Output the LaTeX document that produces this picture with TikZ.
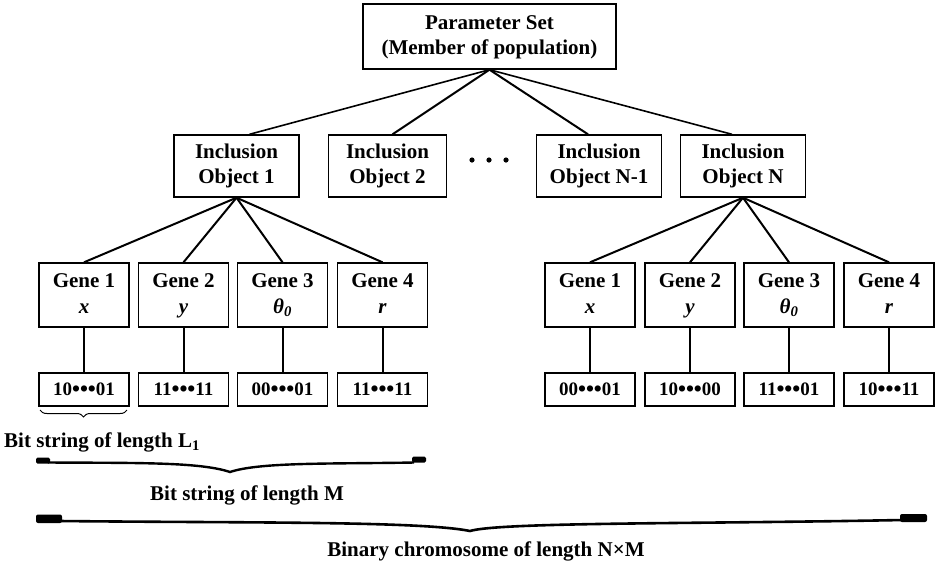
\documentclass[tikz,border=0pt]{standalone}
\usepackage{fontspec}
\setmainfont{Liberation Serif}
\usetikzlibrary{decorations.pathreplacing}
\newcommand{\bdots}{\raisebox{-0.08em}{\scalebox{1.2}{\textbullet\textbullet\textbullet}}}
\begin{document}
\begin{tikzpicture}[x=1pt,y=-1pt,
  box/.style={draw, line width=1.4pt, inner sep=0pt, align=center, font=\fontsize{21}{25}\selectfont\bfseries},
  topbox/.style={box, minimum width=253pt, minimum height=65pt},
  objbox/.style={box, minimum width=125pt, minimum height=62pt},
  genebox/.style={box, minimum width=90pt, minimum height=64pt, font=\fontsize{21}{26}\selectfont\bfseries},
  bitbox/.style={box, minimum width=90pt, minimum height=33pt, font=\fontsize{19}{20}\selectfont\bfseries},
  link/.style={line width=2pt},
  label/.style={font=\fontsize{21}{24}\selectfont\bfseries, inner sep=0pt}
]
\useasboundingbox (0,0) rectangle (942,566);

\node[topbox] (top) at (489.5,36.5) {\raisebox{-3pt}{Parameter Set\strut}\\\raisebox{-3pt}{(Member of population)\strut}};

\node[objbox] (o1) at (236.5,166) {Inclusion\strut\\Object 1\strut};
\node[objbox, minimum width=118pt] (o2) at (387.5,166) {Inclusion\strut\\Object 2\strut};
\node[objbox] (on1) at (599,166) {Inclusion\strut\\Object N-1\strut};
\node[objbox] (on) at (743,166) {Inclusion\strut\\Object N\strut};

\foreach \x [count=\i] in {472,489,506} \fill (\x,160) circle (2.6pt);

\draw[link, line width=1.6pt] (top.south) -- ([xshift=13pt]o1.north);
\draw[link] (top.south) -- ([xshift=5pt]o2.north);
\draw[link] (top.south) -- ([xshift=-11pt]on1.north);
\draw[link, line width=1.6pt] (top.south) -- ([xshift=-11pt]on.north);

% left genes
\node[genebox] (g1) at (84,295) {Gene 1\strut\\\textit{x}\strut};
\node[genebox] (g2) at (183.5,295) {Gene 2\strut\\\textit{y}\strut};
\node[genebox] (g3) at (282.5,295) {Gene 3\strut\\\textit{θ\textsubscript{0}}\strut};
\node[genebox] (g4) at (382.5,295) {Gene 4\strut\\\textit{r}\strut};
% right genes
\node[genebox] (h1) at (590,295) {Gene 1\strut\\\textit{x}\strut};
\node[genebox] (h2) at (690,295) {Gene 2\strut\\\textit{y}\strut};
\node[genebox] (h3) at (789,295) {Gene 3\strut\\\textit{θ\textsubscript{0}}\strut};
\node[genebox] (h4) at (889,295) {Gene 4\strut\\\textit{r}\strut};

\foreach \g in {g1,g2,g3,g4} \draw[link] (o1.south) -- (\g.north);
\foreach \g in {h1,h2,h3,h4} \draw[link] (on.south) -- (\g.north);

% bit strings
\node[bitbox] (b1) at (84,389.5) {10\bdots01};
\node[bitbox] (b2) at (183.5,389.5) {11\bdots11};
\node[bitbox] (b3) at (282.5,389.5) {00\bdots01};
\node[bitbox] (b4) at (382.5,389.5) {11\bdots11};
\node[bitbox] (c1) at (590,389.5) {00\bdots01};
\node[bitbox] (c2) at (690,389.5) {10\bdots00};
\node[bitbox] (c3) at (789,389.5) {11\bdots01};
\node[bitbox] (c4) at (889,389.5) {10\bdots11};

\foreach \a/\b in {g1/b1,g2/b2,g3/b3,g4/b4,h1/c1,h2/c2,h3/c3,h4/c4} \draw[link] (\a) -- (\b);

% small brace
\draw[decorate, decoration={brace, mirror, amplitude=7pt}, line width=1pt] (40,410) -- (127,410);
\node[label, anchor=base west] (lL) at (4,447) {Bit string of length L\textsubscript{1}};

% brace M
\coordinate (mL) at (48,462.5);
\coordinate (mT) at (230,472);
\coordinate (mR) at (414,462.5);
\fill[rounded corners=1.5pt] (36,457.5) rectangle (50,463.5);
\fill[rounded corners=1.5pt] (412,456.5) rectangle (426,462.5);
\draw[line width=2.4pt] (mL) .. controls (140,463) and (200,462) .. (mT) .. controls (260,462) and (330,464) .. (mR);
\node[label, anchor=base] (lM) at (247,500) {Bit string of length M};

% brace NxM
\coordinate (nL) at (60,521);
\coordinate (nT) at (470,531);
\coordinate (nR) at (902,520);
\fill[rounded corners=2pt] (36,514.5) rectangle (62,523);
\fill[rounded corners=2pt] (900,514) rectangle (927,522);
\draw[line width=2.6pt] (nL) .. controls (250,523) and (420,521) .. (nT) .. controls (500,522) and (700,524) .. (nR);
\node[label, anchor=base] (lN) at (486,556) {Binary chromosome of length N×M};
\end{tikzpicture}
\end{document}
